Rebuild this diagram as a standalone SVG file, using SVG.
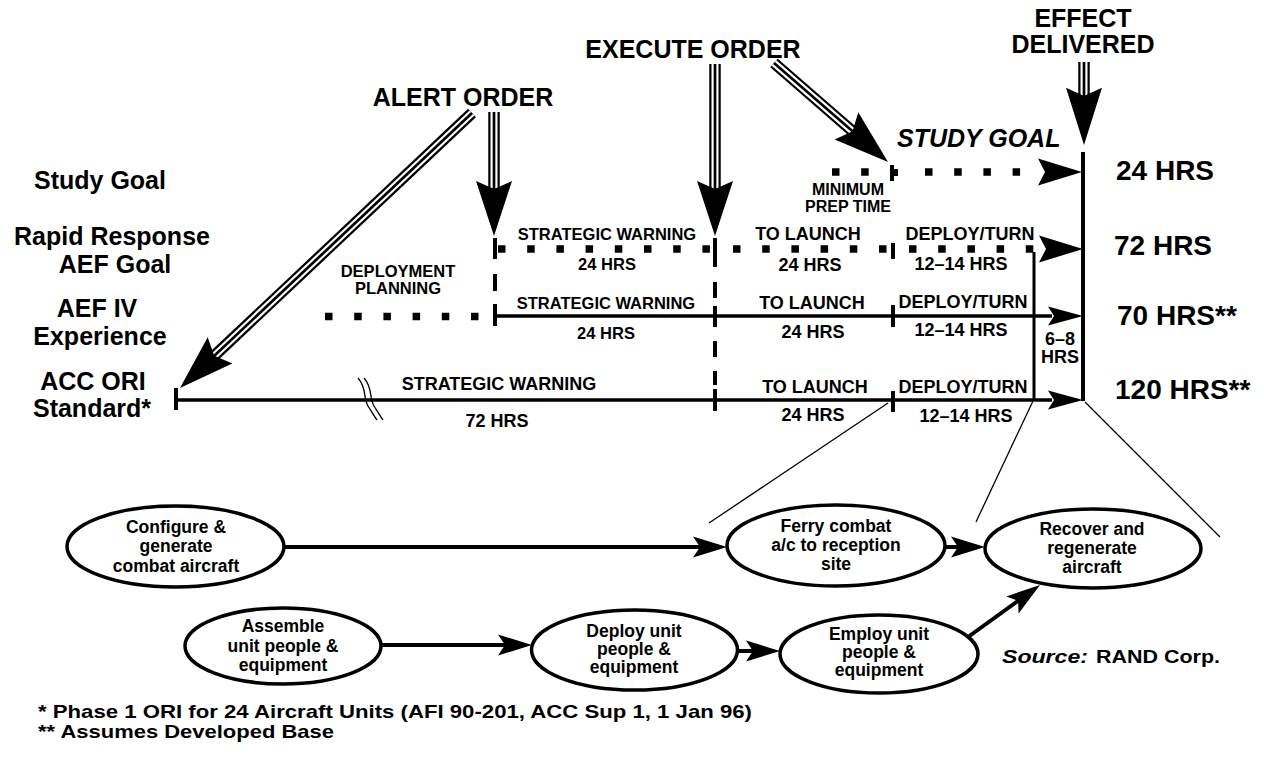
<svg xmlns="http://www.w3.org/2000/svg" xmlns:xlink="http://www.w3.org/1999/xlink" width="1264" height="757" viewBox="0 0 1264 757">
<style>
text{font-family:"Liberation Sans",Arial,Helvetica,sans-serif;font-weight:bold;fill:#000}
.hd{font-size:25px;text-anchor:middle}
.row{font-size:25px;text-anchor:middle}
.hrs{font-size:28px}
.sm{font-size:16.5px;text-anchor:middle}
.md{font-size:18px;text-anchor:middle}
.el{font-size:17.5px;text-anchor:middle}
.note{font-size:19px}
.sh1{stroke:#000;stroke-width:11.5;fill:none}
.sh2{stroke:#fff;stroke-width:7;fill:none}
.sh3{stroke:#000;stroke-width:2.7;fill:none}
.tl{stroke:#000;stroke-width:3.5;fill:none}
.tick{stroke:#000;stroke-width:4;fill:none}
.dots{stroke:#000;stroke-width:7.5;stroke-dasharray:7.5 21.7;fill:none}
.node ellipse{fill:#fff;stroke:#000;stroke-width:3.5}
.conn{stroke:#000;stroke-width:4;fill:none;marker-end:url(#ah)}
.thin{stroke:#000;stroke-width:1.3;fill:none}
</style>
<defs>
  <!-- big order arrowhead, tip at origin pointing +x -->
  <path id="bh" d="M0 0L-55 -18L-47 0L-55 18Z"/>
  <!-- timeline arrowheads -->
  <path id="hL" d="M0 0L-44 -13.5L-37 0L-44 13.5Z"/>
  <path id="hS" d="M0 0L-35 -9.5L-29 0L-35 9.5Z"/>
  <!-- triple-line shafts -->
  <path id="sAv" d="M494 112V195"/>
  <path id="sAd" d="M472 113L213 357"/>
  <path id="sEv" d="M715 64V195"/>
  <path id="sEd" d="M774 63L854 132.5"/>
  <path id="sFv" d="M1084 62V102"/>
  <marker id="ah" viewBox="-36 -12 38 24" markerWidth="38" markerHeight="24" refX="-20" refY="0" orient="auto" markerUnits="userSpaceOnUse" overflow="visible">
    <path d="M0 0L-34 -10.5L-27 0L-34 10.5Z"/>
  </marker>
</defs>

<!-- order headings -->
<g id="orders">
  <text class="hd" x="463" y="106">ALERT ORDER</text>
  <text class="hd" x="693" y="58">EXECUTE ORDER</text>
  <text class="hd" x="1083" y="27">EFFECT</text>
  <text class="hd" x="1083" y="53">DELIVERED</text>
  <text x="897" y="147" style="font-size:25px;font-style:italic">STUDY GOAL</text>
</g>

<!-- triple-line order arrows -->
<g id="order-arrows">
  <use xlink:href="#sAv" class="sh1"/><use xlink:href="#sAv" class="sh2"/><use xlink:href="#sAv" class="sh3"/>
  <use xlink:href="#sAd" class="sh1"/><use xlink:href="#sAd" class="sh2"/><use xlink:href="#sAd" class="sh3"/>
  <use xlink:href="#sEv" class="sh1"/><use xlink:href="#sEv" class="sh2"/><use xlink:href="#sEv" class="sh3"/>
  <use xlink:href="#sEd" class="sh1"/><use xlink:href="#sEd" class="sh2"/><use xlink:href="#sEd" class="sh3"/>
  <use xlink:href="#sFv" class="sh1"/><use xlink:href="#sFv" class="sh2"/><use xlink:href="#sFv" class="sh3"/>
  <use xlink:href="#bh" transform="translate(494 236) rotate(90)"/>
  <use xlink:href="#bh" transform="translate(180 388) rotate(136.7)"/>
  <use xlink:href="#bh" transform="translate(715 236) rotate(90)"/>
  <use xlink:href="#bh" transform="translate(888 162) rotate(41)"/>
  <use xlink:href="#bh" transform="translate(1084 145) rotate(90) scale(1.04 1)"/>
</g>

<!-- row labels -->
<g id="row-labels">
  <text class="row" x="100" y="189">Study Goal</text>
  <text class="row" x="112" y="245">Rapid Response</text>
  <text class="row" x="115" y="273">AEF Goal</text>
  <text class="row" x="97" y="317">AEF IV</text>
  <text class="row" x="100" y="345">Experience</text>
  <text class="row" x="93" y="390">ACC ORI</text>
  <text class="row" x="92" y="417">Standard*</text>
</g>

<!-- totals -->
<g id="totals">
  <text class="hrs" x="1116" y="180">24 HRS</text>
  <text class="hrs" x="1114" y="255">72 HRS</text>
  <text class="hrs" x="1117" y="325">70 HRS**</text>
  <text class="hrs" x="1115" y="399">120 HRS**</text>
</g>

<!-- timelines -->
<g id="timelines">
  <!-- study goal -->
  <path class="dots" d="M832 172H869"/>
  <path class="tick" d="M892 165V181"/>
  <rect x="892" y="169" width="6" height="7"/>
  <path class="dots" d="M925 172H1021"/>
  <use xlink:href="#hL" x="1082" y="172"/>
  <text class="md" x="848" y="195" style="font-size:16px">MINIMUM</text>
  <text class="md" x="848" y="212" style="font-size:16px">PREP TIME</text>

  <!-- rapid response -->
  <path class="tick" d="M495 238V259"/>
  <path class="dots" d="M498 249H710"/>
  <path class="dots" d="M733 249H887"/>
  <path class="tick" d="M893 243V259"/>
  <path class="dots" d="M909 249H1034"/>
  <use xlink:href="#hL" x="1083" y="249"/>
  <text class="sm" x="607" y="240">STRATEGIC WARNING</text>
  <text class="sm" x="607" y="270">24 HRS</text>
  <text class="md" x="808" y="240">TO LAUNCH</text>
  <text class="md" x="810" y="271">24 HRS</text>
  <text class="md" x="970" y="240">DEPLOY/TURN</text>
  <text class="md" x="961" y="270">12–14 HRS</text>
  <text class="sm" x="398" y="277">DEPLOYMENT</text>
  <text class="sm" x="398" y="294">PLANNING</text>

  <!-- AEF IV -->
  <path class="dots" d="M325 316.5H481"/>
  <path class="tl" d="M495 316H1052"/>
  <path class="tick" d="M495 304V326M715 306V327M893 305V327"/>
  <use xlink:href="#hS" x="1083" y="316"/>
  <text class="sm" x="606" y="309">STRATEGIC WARNING</text>
  <text class="sm" x="606" y="339">24 HRS</text>
  <text class="md" x="812" y="309">TO LAUNCH</text>
  <text class="md" x="813" y="338">24 HRS</text>
  <text class="md" x="963" y="308">DEPLOY/TURN</text>
  <text class="md" x="961" y="336">12–14 HRS</text>
  <text class="md" x="1060" y="345">6–8</text>
  <text class="md" x="1060" y="363">HRS</text>

  <!-- ACC ORI -->
  <path class="tl" d="M176 400H1052"/>
  <path class="tick" d="M176 388V410M715 389V411M893 391V412"/>
  <use xlink:href="#hS" x="1083" y="400"/>
  <path class="thin" d="M358 378C367 388 363 398 368 406S374 416 377 420"/>
  <path class="thin" d="M364 378C373 388 369 398 374 406S380 416 383 420"/>
  <text class="md" x="499" y="390">STRATEGIC WARNING</text>
  <text class="md" x="497" y="427">72 HRS</text>
  <text class="md" x="815" y="393">TO LAUNCH</text>
  <text class="md" x="813" y="421">24 HRS</text>
  <text class="md" x="963" y="393">DEPLOY/TURN</text>
  <text class="md" x="966" y="422">12–14 HRS</text>

  <!-- order markers and end lines -->
  <path class="tick" d="M495 274V291"/>
  <path class="tick" d="M715 238V267M715 282V298M715 341V357M715 371V385"/>
  <path d="M1034 252V400" stroke="#000" stroke-width="3"/>
  <path d="M1083 152V401" stroke="#000" stroke-width="4"/>
</g>

<!-- expansion lines -->
<g id="expansion">
  <path class="thin" d="M888 403L709 523"/>
  <path class="thin" d="M1033 401L976 522"/>
  <path class="thin" d="M1085 402L1220 537"/>
</g>

<!-- process connectors -->
<g id="connectors">
  <path class="conn" d="M284 547H707"/>
  <path class="conn" d="M945 547H965"/>
  <path class="conn" d="M381 645H512"/>
  <path class="conn" d="M737 651H760"/>
  <path class="conn" d="M968 637L1023.8 596.7"/>
</g>

<!-- process nodes -->
<g id="configure" class="node">
  <ellipse cx="175.5" cy="546.5" rx="108.5" ry="40.5"/>
  <text class="el" x="176" y="533">Configure &amp;</text>
  <text class="el" x="176" y="552">generate</text>
  <text class="el" x="176" y="572">combat aircraft</text>
</g>
<g id="ferry" class="node">
  <ellipse cx="836" cy="545.5" rx="109" ry="40.5"/>
  <text class="el" x="836" y="532">Ferry combat</text>
  <text class="el" x="836" y="551">a/c to reception</text>
  <text class="el" x="836" y="570">site</text>
</g>
<g id="recover" class="node">
  <ellipse cx="1093" cy="548.5" rx="108" ry="39.5"/>
  <text class="el" x="1092" y="535">Recover and</text>
  <text class="el" x="1092" y="554">regenerate</text>
  <text class="el" x="1092" y="573">aircraft</text>
</g>
<g id="assemble" class="node">
  <ellipse cx="283" cy="646" rx="98" ry="38"/>
  <text class="el" x="283" y="632">Assemble</text>
  <text class="el" x="283" y="652">unit people &amp;</text>
  <text class="el" x="283" y="671">equipment</text>
</g>
<g id="deploy" class="node">
  <ellipse cx="634.5" cy="650" rx="103" ry="40"/>
  <text class="el" x="634" y="637">Deploy unit</text>
  <text class="el" x="634" y="655">people &amp;</text>
  <text class="el" x="634" y="673">equipment</text>
</g>
<g id="employ" class="node">
  <ellipse cx="879" cy="654" rx="99" ry="39"/>
  <text class="el" x="879" y="640">Employ unit</text>
  <text class="el" x="879" y="658">people &amp;</text>
  <text class="el" x="879" y="676">equipment</text>
</g>

<!-- source and footnotes -->
<g id="notes">
  <text class="note" x="1002" y="663" textLength="86" lengthAdjust="spacingAndGlyphs" style="font-style:italic">Source:</text>
  <text class="note" x="1096" y="663" textLength="124" lengthAdjust="spacingAndGlyphs">RAND Corp.</text>
  <text class="note" x="38" y="718" textLength="714" lengthAdjust="spacingAndGlyphs">* Phase 1 ORI for 24 Aircraft  Units (AFI 90-201, ACC Sup 1, 1 Jan 96)</text>
  <text class="note" x="38" y="738" textLength="296" lengthAdjust="spacingAndGlyphs">** Assumes Developed Base</text>
</g>
</svg>
